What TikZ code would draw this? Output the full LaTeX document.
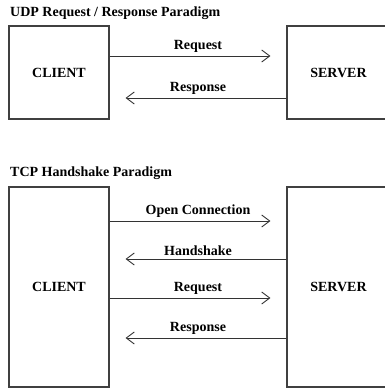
\documentclass[tikz,border=0pt]{standalone}
\usepackage{fontspec}
\setmainfont{Liberation Serif}
\usetikzlibrary{arrows.meta}

\tikzset{
  box/.style={draw=black!75, line width=1.1pt, inner sep=0pt, font=\bfseries\fontsize{14}{16}\selectfont},
  msg/.style={draw=black!80, line width=0.9pt, -{Straight Barb[length=8pt,width=12pt]}, shorten >=16pt},
  lbl/.style={font=\bfseries\fontsize{14}{16}\selectfont, above=-0.5pt, midway},
  title/.style={anchor=west, inner sep=0pt, font=\bfseries\fontsize{14}{16}\selectfont},
}

\begin{document}
\begin{tikzpicture}[x=1pt, y=-1pt]
			%%%%% frame %%%%%
			\useasboundingbox (0, 0) rectangle (385, 391);
			\clip (0, 0) rectangle (385, 391);
			
			%%%%% UDP %%%%%
			\node[title] (udptitle) at (10, 13) {UDP Request / Response Paradigm};
			
			\node[box, minimum width=100pt, minimum height=93pt] (udpclient) at (59, 72.5) {CLIENT};
			\node[box, minimum width=103pt, minimum height=93pt] (udpserver) at (338.5, 72.5) {SERVER};
			
			\draw[msg] (udpclient.east |- 0, 56) -- (udpserver.west |- 0, 56) node[lbl] {Request};
			\draw[msg] (udpserver.west |- 0, 98) -- (udpclient.east |- 0, 98) node[lbl] {Response};
			
			%%%%% TCP %%%%%
			\node[title] (tcptitle) at (10, 173) {TCP Handshake Paradigm};
			
			\node[box, minimum width=100pt, minimum height=200pt] (tcpclient) at (59, 287) {CLIENT};
			\node[box, minimum width=103pt, minimum height=200pt] (tcpserver) at (338.5, 287) {SERVER};
			
			\draw[msg] (tcpclient.east |- 0, 221) -- (tcpserver.west |- 0, 221) node[lbl] {Open Connection};
			\draw[msg] (tcpserver.west |- 0, 259) -- (tcpclient.east |- 0, 259) node[lbl] {Handshake};
			\draw[msg] (tcpclient.east |- 0, 298) -- (tcpserver.west |- 0, 298) node[lbl] {Request};
			\draw[msg] (tcpserver.west |- 0, 338) -- (tcpclient.east |- 0, 338) node[lbl] {Response};
		\end{tikzpicture}
\end{document}
